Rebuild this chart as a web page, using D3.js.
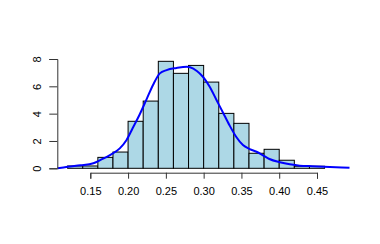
<!DOCTYPE html>
<html><head><meta charset="utf-8">
<script src="https://cdn.jsdelivr.net/npm/d3@7"></script>
<style>body{margin:0;background:#fff}svg{display:block}</style>
</head><body>
<script>
const binStarts = [0.12,0.14,0.16,0.18,0.20,0.22,0.24,0.26,0.28,0.30,0.32,0.34,0.36,0.38,0.40,0.42,0.44];
const binWidth = 0.02;
const densities = [0.17,0.17,0.80,1.19,3.44,4.92,7.83,6.95,7.53,6.31,4.02,3.29,1.10,1.39,0.59,0.15,0.15];
const curveX = [0.1067,0.12,0.137,0.154,0.163,0.176,0.189,0.198,0.206,0.215,0.225,0.233,0.242,0.251,0.264,0.278,0.282,0.291,0.299,0.308,0.317,0.325,0.334,0.343,0.352,0.361,0.370,0.378,0.387,0.401,0.414,0.427,0.444,0.467,0.493];
const curveY = [0.0,0.12,0.22,0.37,0.6,0.97,1.46,2.07,2.93,3.9,5.12,6.1,6.95,7.19,7.34,7.43,7.39,7.12,6.7,5.97,5.0,4.14,3.17,2.31,1.70,1.41,1.21,0.97,0.68,0.44,0.29,0.19,0.15,0.1,0.04];
const xTicks = [0.15,0.20,0.25,0.30,0.35,0.40,0.45];
const yTicks = [0,2,4,6,8];

const W = 380, H = 244;
const svg = d3.select("body").append("svg").attr("width", W).attr("height", H);
const x = d3.scaleLinear().domain([0.15,0.45]).range([90.3,317]);
const y = d3.scaleLinear().domain([0,8]).range([168.3,59]);
const font = "Liberation Sans, Arial, sans-serif";

svg.append("g").selectAll("rect").data(binStarts).join("rect")
  .attr("x", d => x(d))
  .attr("width", d => x(d + binWidth) - x(d))
  .attr("y", (d,i) => y(densities[i]))
  .attr("height", (d,i) => y(0) - y(densities[i]))
  .attr("fill", "#ADD8E6").attr("stroke", "#000").attr("stroke-width", 1);

const line = d3.line().x((d,i) => x(curveX[i])).y(d => y(d)).curve(d3.curveMonotoneX);
svg.append("path").datum(curveY).attr("d", line)
  .attr("fill", "none").attr("stroke", "#0000FF").attr("stroke-width", 2);

const xAxis = svg.append("g").attr("transform", "translate(0,172.7)")
  .call(d3.axisBottom(x).tickValues(xTicks).tickFormat(d3.format(".2f")).tickSize(6).tickPadding(9));
xAxis.selectAll("text").attr("font-family", font).attr("font-size", 11).attr("fill", "#000");
xAxis.selectAll("path,line").attr("stroke", "#333");

const yAxis = svg.append("g").attr("transform", "translate(57.3,0)")
  .call(d3.axisLeft(y).tickValues(yTicks).tickFormat(d3.format("d")).tickSize(8).tickPadding(0));
yAxis.selectAll("path,line").attr("stroke", "#333");
yAxis.selectAll("text").remove();
yAxis.selectAll(".tick").append("text")
  .attr("transform", "translate(-20.5,0) rotate(-90)")
  .attr("text-anchor", "middle").attr("dy", "0.35em")
  .attr("font-family", font).attr("font-size", 11).attr("fill", "#000")
  .text(d => d);
</script>
</body></html>
